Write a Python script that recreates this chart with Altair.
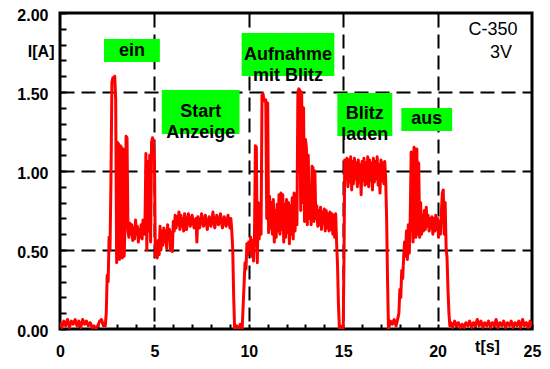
import altair as alt
import pandas as pd

# ---- current trace I[A] over time t[s], phase by phase ----
off_before = [(0.0,0.04),(0.1,0.01),(0.2,0.05),(0.3,0.02),(0.4,0.06),(0.5,0.01),(0.6,0.05),(0.7,0.03),
              (0.8,0.06),(0.9,0.02),(1.0,0.05),(1.1,0.01),(1.2,0.06),(1.3,0.03),(1.4,0.05),(1.5,0.02),
              (1.6,0.04),(1.7,0.01),(1.8,0.02),(1.9,0.00),(2.0,0.02),(2.1,0.05),(2.2,0.06),(2.3,0.02)]

ein_phase = [(2.40,0.02),(2.45,0.10),(2.50,0.34),(2.55,0.30),(2.60,0.58),(2.65,0.50),(2.70,0.95),(2.75,1.56),
             (2.80,1.59),(2.85,1.58),(2.90,1.60),(2.95,1.45),(3.00,0.42),(3.05,1.18),(3.10,1.17),(3.15,0.44),
             (3.20,1.16),(3.25,1.15),(3.30,0.45),(3.35,1.14),(3.40,0.46),(3.45,0.70),(3.50,1.22),(3.55,1.21),
             (3.60,0.62),(3.65,0.58),(3.70,0.67),(3.75,0.60),(3.80,0.66),(3.85,0.56),(3.90,0.64),(3.95,0.57),
             (4.00,0.69),(4.05,0.60),(4.10,0.65),(4.15,0.55),(4.20,0.63),(4.25,0.58),(4.30,0.66),(4.35,0.57),
             (4.40,0.69),(4.45,0.60),(4.50,0.64),(4.55,1.11),(4.60,0.50),(4.65,1.06),(4.70,0.62),(4.75,1.10),
             (4.80,0.55),(4.85,1.18),(4.90,1.21),(4.95,1.19),(5.00,1.10),(5.05,0.46),(5.10,0.52),(5.15,0.45),
             (5.20,0.56),(5.25,0.47),(5.30,0.65),(5.35,0.50),(5.40,0.62),(5.45,0.53),(5.50,0.64),(5.55,0.55),
             (5.60,0.62),(5.65,0.51),(5.70,0.66),(5.75,0.57),(5.80,0.63),(5.85,0.50),(5.90,0.61),(5.95,0.49),
             (6.00,0.68),(6.05,0.62),(6.10,0.72),(6.15,0.64),(6.20,0.71),(6.25,0.66),(6.30,0.74),(6.35,0.63),
             (6.40,0.72),(6.45,0.65),(6.50,0.70),(6.55,0.62),(6.60,0.73)]

start_phase = [(6.70,0.63),(6.80,0.73),(6.90,0.65),(7.00,0.72),(7.10,0.64),(7.20,0.70),(7.25,0.55),(7.30,0.71),
               (7.40,0.64),(7.50,0.73),(7.60,0.65),(7.70,0.72),(7.80,0.63),(7.90,0.71),(8.00,0.65),(8.10,0.74),
               (8.20,0.64),(8.30,0.72),(8.40,0.66),(8.50,0.73),(8.60,0.64),(8.70,0.71),(8.80,0.65),(8.90,0.72),
               (9.00,0.64),(9.05,0.70),(9.10,0.62),(9.15,0.50),(9.20,0.20),(9.25,0.00),(9.35,0.02),(9.45,0.00),
               (9.55,0.03),(9.65,0.00),(9.72,0.20),(9.80,0.42),(9.85,0.38),(9.90,0.54),(9.95,0.47),(10.00,0.55),
               (10.05,0.50),(10.10,0.58),(10.15,0.46),(10.20,0.56),(10.25,0.43),(10.30,0.58)]

aufnahme_phase = [(10.35,1.16),(10.40,1.15),(10.45,0.42),(10.50,0.80),(10.55,0.57),(10.60,0.78),(10.65,0.60),
                  (10.70,1.48),(10.75,1.49),(10.80,1.45),(10.85,1.44),(10.90,1.45),(10.95,0.70),(11.00,1.43),
                  (11.05,0.61),(11.10,0.84),(11.15,0.64),(11.20,0.80),(11.25,0.60),(11.30,0.82),(11.35,0.55),
                  (11.40,0.75),(11.45,0.58),(11.50,0.79),(11.55,0.62),(11.60,0.85),(11.65,0.60),(11.70,0.86),
                  (11.75,0.63),(11.80,0.85),(11.85,0.55),(11.90,0.79),(11.95,0.58),(12.00,0.82),(12.05,0.61),
                  (12.10,0.80),(12.15,0.54),(12.20,0.78),(12.25,0.60),(12.30,0.83),(12.35,0.57),(12.40,0.86),
                  (12.45,0.62),(12.50,0.85),(12.55,0.66),(12.60,1.50),(12.65,1.52),(12.70,1.51),(12.75,0.75),
                  (12.80,1.50),(12.85,0.80),(12.90,1.40),(12.95,0.68),(13.00,1.20),(13.05,1.15),(13.10,0.66),
                  (13.15,1.10),(13.20,0.70),(13.25,0.86),(13.30,0.66),(13.35,1.03),(13.40,1.02),(13.45,0.68),
                  (13.50,1.00),(13.55,0.70),(13.60,0.78),(13.65,0.65),(13.70,0.75),(13.75,0.66),(13.80,0.77),
                  (13.85,0.63),(13.90,0.74),(13.95,0.67),(14.00,0.76),(14.05,0.62),(14.10,0.75),(14.15,0.64),
                  (14.20,0.73),(14.25,0.62),(14.30,0.74),(14.35,0.63),(14.40,0.73),(14.45,0.60),(14.50,0.72),
                  (14.55,0.58),(14.60,0.73),(14.65,0.55),(14.70,0.40),(14.75,0.15),(14.80,0.00),(14.85,0.02),
                  (14.90,0.00),(14.95,0.01),(15.00,0.00),(15.05,0.55)]

laden_phase = [(15.08,1.07),(15.15,0.95),(15.20,1.08),(15.25,0.90),(15.30,1.07),(15.35,0.93),(15.40,1.09),
               (15.45,0.88),(15.50,1.06),(15.55,0.92),(15.60,1.08),(15.65,0.95),(15.70,1.05),(15.75,0.90),
               (15.80,1.07),(15.85,0.93),(15.90,1.04),(15.95,0.85),(16.00,1.06),(16.05,0.94),(16.10,1.08),
               (16.15,0.91),(16.20,1.05),(16.25,0.92),(16.30,1.09),(16.35,0.90),(16.40,1.07),(16.45,0.94),
               (16.50,1.05),(16.55,0.88),(16.60,1.08),(16.65,0.93),(16.70,1.06),(16.75,0.95),(16.80,1.09),
               (16.85,0.91),(16.90,1.04),(16.95,0.86),(17.00,1.07),(17.05,0.94),(17.10,1.05),(17.15,0.92),
               (17.20,1.06),(17.25,0.95),(17.30,0.70),(17.35,0.30),(17.40,0.00),(17.50,0.05),(17.60,0.03),
               (17.70,0.06),(17.80,0.02),(17.90,0.07),(17.95,0.10)]

aus_phase = [(18.00,0.25),(18.05,0.20),(18.10,0.37),(18.15,0.32),(18.20,0.45),(18.25,0.55),(18.30,0.46),
             (18.35,0.62),(18.40,0.44),(18.45,0.66),(18.50,0.48),(18.55,0.70),(18.60,1.12),(18.65,1.10),
             (18.70,0.55),(18.75,1.15),(18.80,1.13),(18.85,0.58),(18.90,1.14),(18.95,0.60),(19.00,1.05),
             (19.05,0.58),(19.10,0.80),(19.15,0.60),(19.20,0.72),(19.25,0.62),(19.30,0.75),(19.35,0.63),
             (19.40,0.77),(19.45,0.65),(19.50,0.72),(19.55,0.62),(19.60,0.70),(19.65,0.64),(19.70,0.71),
             (19.75,0.60),(19.80,0.70),(19.85,0.62),(19.90,0.72),(19.95,0.63),(20.00,0.70),(20.05,0.58),
             (20.10,0.68),(20.15,0.60),(20.20,0.74),(20.25,0.86),(20.30,0.88),(20.35,0.60),(20.40,0.80),
             (20.45,0.52),(20.50,0.45),(20.55,0.25),(20.60,0.10),(20.65,0.02)]

off_after = [(20.7,0.04),(20.8,0.01),(20.9,0.05),(21.0,0.02),(21.1,0.04),(21.2,0.01),(21.3,0.03),(21.4,0.01),
             (21.5,0.04),(21.6,0.02),(21.7,0.05),(21.8,0.01),(21.9,0.04),(22.0,0.02),(22.1,0.06),(22.2,0.02),
             (22.3,0.05),(22.4,0.01),(22.5,0.04),(22.6,0.02),(22.7,0.05),(22.8,0.01),(22.9,0.04),(23.0,0.02),
             (23.1,0.06),(23.2,0.01),(23.3,0.04),(23.4,0.02),(23.5,0.05),(23.6,0.01),(23.7,0.04),(23.8,0.02),
             (23.9,0.05),(24.0,0.01),(24.1,0.04),(24.2,0.02),(24.3,0.05),(24.4,0.01),(24.5,0.06),(24.6,0.02),
             (24.7,0.04),(24.8,0.01),(24.9,0.05),(25.0,0.02)]

# ---- axis ticks ----
x_ticks = [0,1,2,3,4,5,6,7,8,9,10,11,12,13,14,15,16,17,18,19,20,21,22,23,24,25]
y_ticks = [0.0,0.1,0.2,0.3,0.4,0.5,0.6,0.7,0.8,0.9,1.0,1.1,1.2,1.3,1.4,1.5,1.6,1.7,1.8,1.9,2.0]

# ---- green annotation boxes (data coordinates) ----
box_text = ["ein", "Start\nAnzeige", "Aufnahme\nmit Blitz", "Blitz\nladen", "aus"]
box_t1 = [2.33, 5.39, 9.62, 14.69, 18.08]
box_t2 = [5.29, 9.51, 14.53, 17.60, 20.77]
box_i1 = [1.690, 1.234, 1.601, 1.222, 1.253]
box_i2 = [1.835, 1.513, 1.873, 1.494, 1.399]

note_text = ["C-350", "3V"]
note_t = [22.94, 23.36]
note_i = [1.892, 1.747]

FONT = "Liberation Sans"

rows = off_before + ein_phase + start_phase + aufnahme_phase + laden_phase + aus_phase + off_after
trace = pd.DataFrame(rows, columns=["t", "I"])
boxes = pd.DataFrame({"label": box_text, "t1": box_t1, "t2": box_t2, "i1": box_i1, "i2": box_i2})
notes = pd.DataFrame({"label": note_text, "t": note_t, "I": note_i})

xscale = alt.Scale(domain=[0, 25], nice=False, zero=False)
yscale = alt.Scale(domain=[0, 2], nice=False, zero=False)

x_axis = alt.Axis(
    values=x_ticks, tickCount=100, format="d", labelExpr="datum.value % 5 === 0 ? datum.label : ''",
    offset=-5, tickSize=5, tickWidth=2, tickColor="black", domain=False,
    labelPadding=14, labelFont=FONT, labelFontSize=16, labelFontWeight="bold", labelColor="black",
    labelFlush=False, labelOverlap=False,
    grid=True, gridColor="black", gridWidth=2, gridDash=[14, 7],
    gridOpacity={"condition": {"test": "datum.value % 5 === 0 && datum.value > 0 && datum.value < 25", "value": 1}, "value": 0},
    title="t[s]", titleX=427, titleY=14, titleAlign="center", titleBaseline="top",
    titleFont=FONT, titleFontSize=16, titleFontWeight="bold", titleColor="black",
)
y_axis = alt.Axis(
    values=y_ticks, tickCount=100, format=".2f", labelExpr="round(datum.value * 10) % 5 === 0 ? datum.label : ''",
    offset=-6, tickSize=6, tickWidth=2, tickColor="black", domain=False,
    labelPadding=12, labelOffset=2, labelFont=FONT, labelFontSize=16, labelFontWeight="bold", labelColor="black",
    labelOverlap=False,
    grid=True, gridColor="black", gridWidth=2, gridDash=[14, 7],
    gridOpacity={"condition": {"test": "round(datum.value * 10) % 5 === 0 && datum.value > 0.05 && datum.value < 1.95", "value": 1}, "value": 0},
    title="I[A]", titleAngle=0, titleX=-12, titleY=38, titleAlign="right", titleBaseline="middle",
    titleFont=FONT, titleFontSize=16, titleFontWeight="bold", titleColor="black",
)

line = alt.Chart(trace).mark_line(color="#ff0000", strokeWidth=3, strokeJoin="round", clip=True).encode(
    x=alt.X("t:Q", scale=xscale, axis=x_axis),
    y=alt.Y("I:Q", scale=yscale, axis=y_axis),
    order="t:Q",
)

rects = alt.Chart(boxes).mark_rect(color="#00ff00").encode(
    x=alt.X("t1:Q", scale=xscale), x2="t2:Q",
    y=alt.Y("i1:Q", scale=yscale), y2="i2:Q",
)

labels = alt.Chart(boxes).transform_calculate(
    tm="(datum.t1 + datum.t2) / 2", im="(datum.i1 + datum.i2) / 2"
).mark_text(font=FONT, fontSize=18, fontWeight="bold", color="black", lineBreak="\n", lineHeight=21,
            align="center", baseline="middle").encode(
    x=alt.X("tm:Q", scale=xscale), y=alt.Y("im:Q", scale=yscale), text="label:N",
)

note_marks = alt.Chart(notes).mark_text(font=FONT, fontSize=18, color="black", align="center",
                                        baseline="middle").encode(
    x=alt.X("t:Q", scale=xscale), y=alt.Y("I:Q", scale=yscale), text="label:N",
)

chart = alt.layer(line, rects, labels, note_marks).properties(
    width=472, height=316,
    padding={"left": 52, "top": 5, "right": 10, "bottom": 30},
    autosize=alt.AutoSizeParams(type="none"),
    background="white",
).configure_view(stroke="black", strokeWidth=3)

chart.save("out.html", embed_options={"renderer": "svg", "actions": False})
